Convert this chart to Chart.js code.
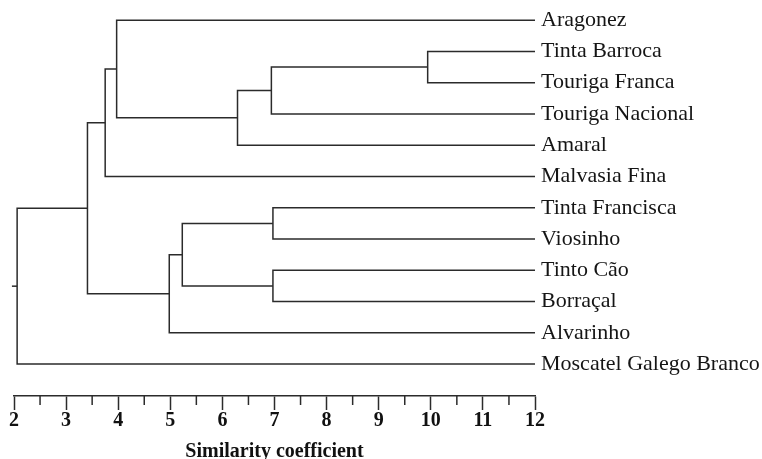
<!DOCTYPE html>
<html lang="en">
<head>
<meta charset="UTF-8">
<title>Similarity dendrogram</title>
<script src="https://cdn.jsdelivr.net/npm/chart.js@4"></script>
<style>
    html, body { margin: 0; padding: 0; background: #fff; overflow: hidden; }
    #wrap { width: 762px; height: 459px; position: relative; }
</style>
</head>
<body>
<div id="wrap"><canvas id="dendro"></canvas></div>
<script>
// leaves, top to bottom
const leaves = [
    'Aragonez', 'Tinta Barroca', 'Touriga Franca', 'Touriga Nacional', 'Amaral',
    'Malvasia Fina', 'Tinta Francisca', 'Viosinho', 'Tinto Cão', 'Borraçal',
    'Alvarinho', 'Moscatel Galego Branco'
];

// merges, linkage style: [child a, child b, similarity]; ids >= 12 are earlier merges
const mergeA = [1, 12, 13, 0, 15, 6, 8, 17, 19, 16, 21];
const mergeB = [2, 3, 4, 14, 5, 7, 9, 18, 10, 20, 11];
const mergeLevel = [9.94, 6.94, 6.29, 3.97, 3.75, 6.97, 6.97, 5.23, 4.98, 3.41, 2.06];

const xTicks = [2, 3, 4, 5, 6, 7, 8, 9, 10, 11, 12];
const xMinorTicks = [2.5, 3.5, 4.5, 5.5, 6.5, 7.5, 8.5, 9.5, 10.5, 11.5];
const leafEnd = 12;
const rootStubEnd = 1.96;

const ink = '#2b2b2b';
const serif = '"Liberation Serif", "Times New Roman", serif';

// node positions: leaves sit at their row, a merge sits midway between its children
const nodeX = leaves.map(() => leafEnd);
const nodeY = leaves.map((_, i) => i);
const datasets = [];
for (let i = 0; i < mergeLevel.length; i++) {
    const a = mergeA[i], b = mergeB[i], h = mergeLevel[i];
    datasets.push({
        data: [
            { x: nodeX[a], y: nodeY[a] },
            { x: h, y: nodeY[a] },
            { x: h, y: nodeY[b] },
            { x: nodeX[b], y: nodeY[b] }
        ]
    });
    nodeX.push(h);
    nodeY.push((nodeY[a] + nodeY[b]) / 2);
}
const root = nodeX.length - 1;
datasets.push({ data: [{ x: nodeX[root], y: nodeY[root] }, { x: rootStubEnd, y: nodeY[root] }] });

datasets.forEach(d => Object.assign(d, {
    showLine: true,
    borderColor: ink,
    borderWidth: 1.5,
    pointRadius: 0,
    fill: false,
    tension: 0,
    clip: false
}));

// half-unit ticks, shorter than the whole-unit ones
const minorTicks = {
    id: 'minorTicks',
    afterDraw(chart) {
        const sx = chart.scales.x;
        const ctx = chart.ctx;
        ctx.save();
        ctx.strokeStyle = ink;
        ctx.lineWidth = 1.5;
        xMinorTicks.forEach(v => {
            const px = sx.getPixelForValue(v);
            ctx.beginPath();
            ctx.moveTo(px, sx.top);
            ctx.lineTo(px, sx.top + 9);
            ctx.stroke();
        });
        ctx.restore();
    }
};

new Chart(document.getElementById('dendro'), {
    type: 'scatter',
    data: { datasets },
    plugins: [minorTicks],
    options: {
        responsive: true,
        maintainAspectRatio: false,
        animation: false,
        layout: { padding: { left: 14, top: 2, right: 0, bottom: 0 } },
        plugins: { legend: { display: false }, tooltip: { enabled: false } },
        scales: {
            x: {
                type: 'linear',
                position: 'bottom',
                min: 2,
                max: 12,
                afterBuildTicks: s => { s.ticks = xTicks.map(v => ({ value: v })); },
                afterFit: s => { s.height = 63; s.paddingLeft = 0; s.paddingRight = 0; },
                grid: { drawOnChartArea: false, drawTicks: true, tickLength: 14, tickColor: ink, tickWidth: 1.5 },
                border: { display: true, color: ink, width: 1.5 },
                ticks: {
                    padding: 1,
                    color: '#111',
                    maxRotation: 0,
                    autoSkip: false,
                    font: { family: serif, size: 20, weight: 'bold', lineHeight: 1 }
                },
                title: {
                    display: true,
                    text: 'Similarity coefficient',
                    color: '#111',
                    padding: { top: 0, bottom: -3 },
                    font: { family: serif, size: 20, weight: 'bold', lineHeight: 1 }
                }
            },
            y: {
                type: 'linear',
                position: 'right',
                reverse: true,
                min: -0.58,
                max: 12.02,
                afterBuildTicks: s => { s.ticks = leaves.map((_, i) => ({ value: i })); },
                afterFit: s => { s.width = 227; s.paddingTop = 0; s.paddingBottom = 0; },
                grid: { display: false, drawTicks: false },
                border: { display: false },
                ticks: {
                    padding: 6,
                    color: '#151515',
                    autoSkip: false,
                    callback: v => leaves[v],
                    font: { family: serif, size: 22 }
                }
            }
        }
    }
});
</script>
</body>
</html>
